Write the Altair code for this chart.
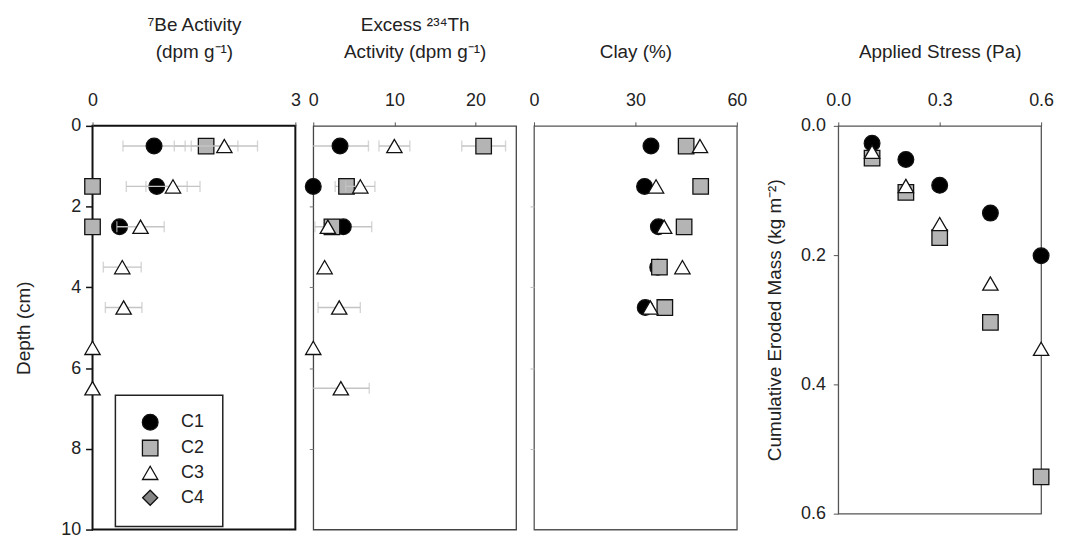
import altair as alt
import pandas as pd

FONT = "Liberation Sans"
ERR_COLOR = "#c4c4c4"

cores = ["C1", "C2", "C3", "C4"]
core_fill = ["#000000", "#b4b4b4", "#ffffff", "#858585"]
core_shape = ["circle", "square", "triangle-up", "diamond"]
core_stroke = ["#111111", "#111111", "#111111", "#111111"]
core_size = [250, 230, 310, 420]

depth = [0.5, 1.5, 2.5, 3.5, 4.5, 5.5, 6.5]

# 7Be activity (dpm/g) and error half-widths
be_c1 = [0.91, 0.95, 0.40]
be_c1_err = [0.46, 0.45, 0.0]
be_c2 = [1.68, 0.0, 0.0]
be_c2_err = [0.47, 0.0, 0.0]
be_c3 = [1.95, 1.19, 0.71, 0.44, 0.46, 0.0, 0.0]
be_c3_err = [0.49, 0.40, 0.35, 0.28, 0.27, 0.0, 0.0]

# Excess 234Th activity (dpm/g)
th_c1 = [3.3, 0.0, 3.7]
th_c1_err = [3.5, 0.0, 3.5]
th_c2 = [21.0, 4.1, 2.3]
th_c2_err = [2.7, 1.4, 0.0]
th_c3 = [10.0, 5.8, 1.8, 1.4, 3.2, 0.0, 3.4]
th_c3_err = [1.9, 1.8, 0.0, 0.0, 2.6, 0.0, 3.5]

# Clay (%)
clay_c1 = [34.6, 32.7, 36.8, 36.6, 32.9]
clay_c2 = [45.0, 49.3, 44.4, 37.1, 38.7]
clay_c3 = [49.1, 36.1, 38.5, 43.9, 34.4]

# Erosion: applied stress (Pa) vs cumulative eroded mass (kg m-2)
stress = [0.1, 0.2, 0.3, 0.45, 0.6]
mass_c1 = [0.027, 0.052, 0.092, 0.135, 0.201]
mass_c2 = [0.050, 0.103, 0.173, 0.304, 0.543]
mass_c3 = [0.040, 0.093, 0.152, 0.244, 0.345]


def profile(series):
    rows = []
    for core, vals, errs in series:
        for i, v in enumerate(vals):
            e = errs[i] if errs else 0.0
            rows.append(dict(core=core, x=v, y=depth[i], err=e, lo=v - e, hi=v + e))
    return pd.DataFrame(rows)


def erosion():
    rows = []
    for core, vals in [("C1", mass_c1), ("C2", mass_c2), ("C3", mass_c3)]:
        for s, m in zip(stress, vals):
            rows.append(dict(core=core, x=s, y=m, err=0.0, lo=s, hi=s))
    return pd.DataFrame(rows)


fill_scale = alt.Scale(domain=cores, range=core_fill)
shape_scale = alt.Scale(domain=cores, range=core_shape)
stroke_scale = alt.Scale(domain=cores, range=core_stroke)
size_scale = alt.Scale(domain=cores, range=core_size)


def panel(df, xscale, yscale, xaxis, yaxis, legend, stroke, stroke_w, height=406):
    def X(f):
        return alt.X(f, type="quantitative", scale=xscale, axis=xaxis)

    Y = alt.Y("y:Q", scale=yscale, axis=yaxis)
    layers = []
    for core in ["C1", "C2", "C3"]:
        sub = df[df.core == core]
        e = sub[sub.err > 0]
        if len(e):
            layers.append(
                alt.Chart(e).mark_rule(color=ERR_COLOR, strokeWidth=1.4, clip=True)
                .encode(x=X("lo"), x2="hi", y=Y)
            )
            layers.append(
                alt.Chart(e).transform_fold(["lo", "hi"])
                .mark_tick(orient="vertical", size=11, thickness=1.4, color=ERR_COLOR, clip=True)
                .encode(x=X("value"), y=Y)
            )
        layers.append(
            alt.Chart(sub).mark_point(filled=True, strokeWidth=1.3, opacity=1)
            .encode(
                x=X("x"), y=Y,
                fill=alt.Fill("core:N", scale=fill_scale, legend=legend),
                shape=alt.Shape("core:N", scale=shape_scale, legend=legend),
                stroke=alt.Stroke("core:N", scale=stroke_scale, legend=legend),
                size=alt.Size("core:N", scale=size_scale, legend=legend),
            )
        )
    return alt.layer(*layers).properties(
        width=204, height=height,
        view=alt.ViewBackground(stroke=stroke, strokeWidth=stroke_w),
    )


depth_scale = alt.Scale(domain=[0, 10], reverse=True, nice=False, zero=False)

top_common = dict(orient="top", grid=False, domain=False, tickSize=4,
                  tickColor="#555555", labelPadding=12, titlePadding=31,
                  labelFlush=False)

legend1 = alt.Legend(orient="none", legendX=23, legendY=271, title=None,
                     strokeColor="#222222", padding=18, rowPadding=4,
                     symbolOffset=8, labelOffset=22,
                     labelFontSize=18, labelFont=FONT, labelColor="#222222",
                     symbolStrokeWidth=1.3)

p1 = panel(
    profile([("C1", be_c1, be_c1_err), ("C2", be_c2, be_c2_err), ("C3", be_c3, be_c3_err)]),
    alt.Scale(domain=[0, 3], nice=False),
    depth_scale,
    alt.Axis(values=[0, 3], title=["\u2077Be Activity", "(dpm g\u207b\u00b9)"], **top_common),
    alt.Axis(values=[0, 2, 4, 6, 8, 10], title="Depth (cm)", grid=False, domain=False,
             tickSize=7, tickWidth=1.5, tickColor="#111111", labelPadding=5,
             titlePadding=27, labelFlush=False),
    legend1, "#111111", 2,
)

p2 = panel(
    profile([("C1", th_c1, th_c1_err), ("C2", th_c2, th_c2_err), ("C3", th_c3, th_c3_err)]),
    alt.Scale(domain=[0, 25], nice=False),
    depth_scale,
    alt.Axis(values=[0, 10, 20], title=["Excess \u00b2\u00b3\u2074Th", "Activity (dpm g\u207b\u00b9)"],
             **top_common),
    alt.Axis(values=[2, 4, 6, 8], labels=False, title=None, grid=False,
             domain=False, tickSize=4, tickColor="#777777"),
    None, "#444444", 1.3,
)

p3 = panel(
    profile([("C1", clay_c1, None), ("C2", clay_c2, None), ("C3", clay_c3, None)]),
    alt.Scale(domain=[0, 60], nice=False),
    depth_scale,
    alt.Axis(values=[0, 30, 60], title="Clay (%)", **top_common),
    alt.Axis(values=[2, 4, 6, 8], labels=False, title=None, grid=False,
             domain=False, tickSize=4, tickColor="#bbbbbb"),
    None, "#555555", 1.3,
)

p4 = panel(
    erosion(),
    alt.Scale(domain=[0, 0.6], nice=False),
    alt.Scale(domain=[0, 0.6], reverse=True, nice=False),
    alt.Axis(values=[0, 0.3, 0.6], format=".1f", title="Applied Stress (Pa)", **top_common),
    alt.Axis(values=[0, 0.2, 0.4, 0.6], format=".1f",
             title="Cumulative Eroded Mass (kg m\u207b\u00b2)", grid=False, domain=False,
             tickSize=5, tickColor="#555555", labelPadding=8, titlePadding=16,
             labelFlush=False),
    None, "#555555", 1.3, height=390,
)

# empty gap column that leaves room for the last panel's y axis
gap = alt.Chart(pd.DataFrame({"s": [0]})).mark_point(opacity=0).encode(
    x=alt.X("s:Q", axis=None), y=alt.Y("s:Q", axis=None)
).properties(width=66, height=10, view=alt.ViewBackground(stroke="transparent"))

chart = alt.hconcat(p1, p2, p3, gap, p4, spacing=18, bounds="flush").resolve_scale(
    fill="independent", shape="independent", stroke="independent", size="independent"
).configure_axis(
    labelFont=FONT, titleFont=FONT, labelFontSize=18, titleFontSize=19,
    titleFontWeight="normal", labelColor="#222222", titleColor="#222222",
    titleLineHeight=27,
).configure_legend(
    strokeWidth=1.5,
).configure_view(stroke="#555555")

chart.save("out.html", embed_options={"renderer": "svg", "actions": False})
